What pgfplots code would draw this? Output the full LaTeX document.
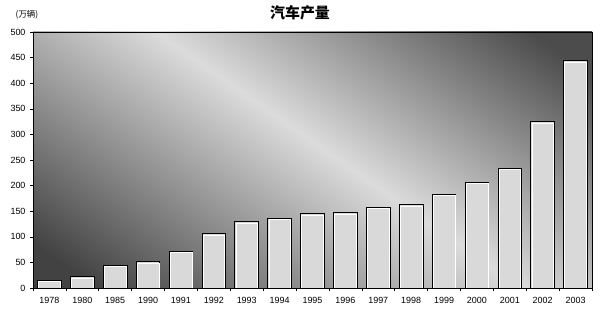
\documentclass[border=0pt]{standalone}
\usepackage{pgfplots}
\pgfplotsset{compat=1.18}
\usepackage{fontspec}
\setmainfont{Liberation Sans}
\newfontfamily\cjk{Noto Sans CJK SC}
\pgfdeclarehorizontalshading{bgshade}{100bp}{color(0bp)=(black!76); color(20bp)=(black!74); color(52bp)=(black!14); color(80bp)=(black!70); color(100bp)=(black!70)}
\begin{document}
\begin{tikzpicture}
\useasboundingbox (-33bp,-23bp) rectangle (567bp,288bp);
\begin{axis}[
  at={(0,0)}, anchor=south west,
  scale only axis, width=559bp, height=256bp,
  xmin=-0.5, xmax=16.5, ymin=0, ymax=500,
  xtick={0,...,16},
  xticklabels={1978,1980,1985,1990,1991,1992,1993,1994,1995,1996,1997,1998,1999,2000,2001,2002,2003},
  minor xtick={-0.5,0.5,...,16.5},
  ytick={0,50,...,500},
  xtick pos=left, ytick pos=left,
  tick align=outside,
  major x tick style={draw=none},
  minor tick length=3bp, major tick length=3bp,
  tick style={black, line width=0.6pt},
  axis line style={black, line width=0.7pt},
  ticklabel style={font=\fontsize{9}{10}\selectfont},
  xticklabel style={yshift=-3bp},
  yticklabel style={xshift=-1bp},
  /pgf/number format/assume math mode=true,
  axis on top,
]
\shade[shading=bgshade, shading angle=55] (rel axis cs:0,0) rectangle (rel axis cs:1,1);
\addplot[ybar, bar width=0.72, draw=black, line width=0.9pt, fill=black!15] coordinates {
(0,14.9) (1,22.2) (2,44.3) (3,50.9) (4,71.4) (5,106.2) (6,129.7) (7,136.7) (8,145.3) (9,147.5) (10,158.3) (11,162.8) (12,183.2) (13,207.0) (14,234.2) (15,325.1) (16,444.4)};
\addplot[ybar, bar width=0.66, draw=white, line width=0.5pt, fill=none, yshift=-1.3bp] coordinates {
(0,14.9) (1,22.2) (2,44.3) (3,50.9) (4,71.4) (5,106.2) (6,129.7) (7,136.7) (8,145.3) (9,147.5) (10,158.3) (11,162.8) (12,183.2) (13,207.0) (14,234.2) (15,325.1) (16,444.4)};
\end{axis}
\node[font=\cjk\bfseries\fontsize{15}{17}\selectfont] at (267bp,275bp) {汽车产量};
\node[font=\cjk\fontsize{8.5}{9}\selectfont] at (-6bp,273bp) {(万辆)};
\end{tikzpicture}
\end{document}
